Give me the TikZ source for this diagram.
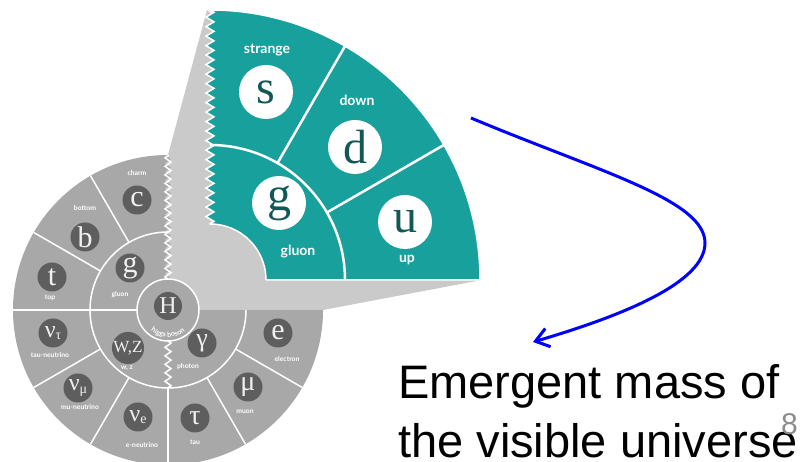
\documentclass[tikz,border=0pt]{standalone}
\usepackage{fontspec}
\setmainfont{Liberation Sans}
\newfontfamily\serifp{Liberation Serif}
\newfontfamily\labf{Lato}
\usetikzlibrary{decorations.pathmorphing,decorations.text,arrows.meta}
\definecolor{tealmain}{RGB}{24,160,157}
\definecolor{tealdark}{RGB}{18,88,86}
\definecolor{greymid}{RGB}{168,168,168}
\definecolor{greylight}{RGB}{202,202,202}
\definecolor{greydark}{RGB}{94,94,94}
\definecolor{pblue}{RGB}{0,0,255}
\newcommand{\nusub}[1]{ν\raisebox{-0.1em}{\fontsize{14}{14}\selectfont #1}}
\tikzset{
  pdot/.style={circle, fill=greydark, minimum size=29pt, inner sep=0pt, text=white!94!black, font=\serifp\fontsize{30}{30}\selectfont},
  plab/.style={text=white, font=\labf\bfseries\fontsize{6.8}{6.8}\selectfont, inner sep=0pt},
  tdot/.style={circle, fill=white, minimum size=54pt, inner sep=0pt, text=tealdark, font=\serifp\fontsize{48}{48}\selectfont},
  tlab/.style={text=white, font=\labf\bfseries\fontsize{14}{14}\selectfont, inner sep=0pt},
  wline/.style={draw=white, line width=1.5pt},
  tline/.style={draw=white, line width=2.5pt},
  zz/.style={decoration={zigzag, amplitude=3pt, segment length=8.5pt}},
  zzt/.style={decoration={zigzag, amplitude=4pt, segment length=9.5pt}},
  bigtext/.style={anchor=base west, inner sep=0pt, font=\fontsize{47}{47}\selectfont}
}
\begin{document}
\begin{tikzpicture}[x=1pt,y=1pt]
\useasboundingbox (0,0) rectangle (806,462);
\clip (0,0) rectangle (806,462);
\coordinate (C) at (168,152);
\coordinate (T) at (210,182);
% wheel base
\fill[greymid] (C) circle (155);
% light grey zoom cone
\fill[greylight] (168,152) decorate[zz]{-- (168,307)} -- (207,452) -- (482,182) -- (323,152) -- cycle;
% wheel dividers
\draw[wline] (C) ++(90:78) arc (90:360:78);
\foreach \a in {120,150,180,210,240,270,300,330}
  \draw[wline] (C) ++(\a:78) -- ++(\a:77);
\draw[wline] (C) ++(180:31) -- ++(180:47);
\draw[wline] (C) ++(270:31) decorate[zz]{-- ++(270:47)};
\draw[wline] (C) ++(90:31) decorate[zz]{-- ++(90:124)};
% higgs
\draw[wline, fill=greymid] (C) circle (31);
\node[pdot, minimum size=28pt, font=\serifp\fontsize{24}{24}\selectfont] (H) at (168,156) {H};
\path[decorate, decoration={text along path, text align=center, text color=white,
  text={|\labf\bfseries\fontsize{7}{7}\selectfont|higgs boson}}]
  (C) ++(200:27) arc (200:340:27);
% particles on wheel
\node[pdot] (c) at (137,262) {c};
\node[plab] (cl) at (137,289) {charm};
\node[pdot] (b) at (85,225) {b};
\node[plab] (bl) at (85,254) {bottom};
\node[pdot] (t) at (52,185) {t};
\node[plab] (tl) at (50,164) {top};
\node[pdot] (g) at (130,194) {g};
\node[plab] (gl) at (120,167) {gluon};
\node[pdot, font=\serifp\fontsize{24}{24}\selectfont] (nt) at (53,129) {\nusub{τ}};
\node[plab] (ntl) at (50,107) {tau-neutrino};
\node[pdot, font=\serifp\fontsize{17}{17}\selectfont] (wz) at (128,114) {W,Z};
\node[plab] (wzl) at (127,94) {w, z};
\node[pdot, font=\serifp\fontsize{26}{26}\selectfont] (ga) at (202,119) {γ};
\node[plab] (gal) at (188,95) {photon};
\node[pdot] (e) at (278,129) {e};
\node[plab] (el) at (287,103) {electron};
\node[pdot, font=\serifp\fontsize{24}{24}\selectfont] (nm) at (78,74) {\nusub{μ}};
\node[plab] (nml) at (80,55) {mu-neutrino};
\node[pdot, font=\serifp\fontsize{24}{24}\selectfont] (ne) at (138,45) {\nusub{e}};
\node[plab] (nel) at (142,17) {e-neutrino};
\node[pdot, font=\serifp\fontsize{28}{28}\selectfont] (ta) at (195,44) {τ};
\node[plab] (tal) at (195,20) {tau};
\node[pdot, font=\serifp\fontsize{28}{28}\selectfont] (mu) at (248,75) {μ};
\node[plab] (mul) at (245,50) {muon};
% teal zoomed sector
\draw[white, line width=1.5pt, fill=tealmain] (266,182) -- (480,182) arc (0:90:270)
  decorate[zzt]{-- (210,238)} arc (90:0:56) -- cycle;
\draw[tline] (T) ++(0,135) arc (90:0:135);
\draw[tline] (T) ++(30:135) -- ++(30:135);
\draw[tline] (T) ++(60:135) -- ++(60:135);
\node[tdot] (s) at (266,370) {s};
\node[tlab] (sl) at (267,412) {strange};
\node[tdot] (d) at (355,315) {d};
\node[tlab] (dl) at (357,362) {down};
\node[tdot] (tg) at (279,259) {g};
\node[tlab] (tgl) at (298,210) {gluon};
\node[tdot] (u) at (405,240) {u};
\node[tlab] (ul) at (407,202) {up};
% arrow
\coordinate (as) at (471,344);
\coordinate (am) at (705,219);
\coordinate (ae) at (533,120);
\draw[pblue, line width=3pt, -{Straight Barb[length=13pt,width=19pt]}]
  (as) .. controls (600,290) and (705,262) .. (am)
       .. controls (705,180) and (625,147) .. (ae);
% text
\node[bigtext] (t1) at (398,63) {Emergent mass of};
\node[bigtext] (t2) at (398,4) {the visible universe};
\node[anchor=base west, inner sep=0pt, text=black!45, font=\fontsize{30}{30}\selectfont] (pg) at (781,27) {8};
\end{tikzpicture}
\end{document}
